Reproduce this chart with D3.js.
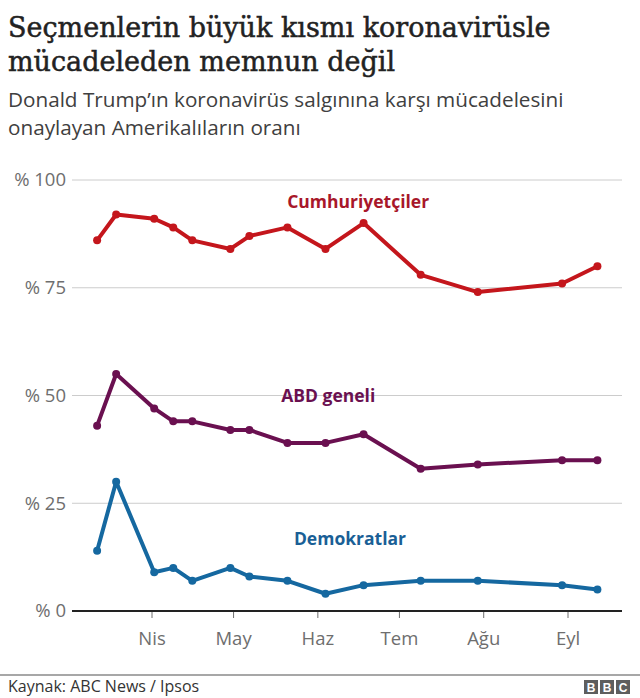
<!DOCTYPE html>
<html><head><meta charset="utf-8">
<script src="https://cdn.jsdelivr.net/npm/d3@7"></script>
<style>
body{margin:0;background:#fff;}
svg{display:block;}
</style></head>
<body>
<svg id="c" width="640" height="698"></svg>
<script>
const dates = ["2020-03-12","2020-03-19","2020-04-02","2020-04-09","2020-04-16","2020-04-30","2020-05-07","2020-05-21","2020-06-04","2020-06-18","2020-07-09","2020-07-30","2020-08-30","2020-09-12"];
const republicans = [86,92,91,89,86,84,87,89,84,90,78,74,76,80];
const overall = [43,55,47,44,44,42,42,39,39,41,33,34,35,35];
const democrats = [14,30,9,10,7,10,8,7,4,6,7,7,6,5];
const seriesNames = ["Cumhuriyetçiler","ABD geneli","Demokratlar"];
const yTicks = [0,25,50,75,100];
const monthTicks = ["2020-04-01","2020-05-01","2020-06-01","2020-07-01","2020-08-01","2020-09-01"];
const monthLabels = ["Nis","May","Haz","Tem","Ağu","Eyl"];

const svg = d3.select("#c");
const parse = d3.timeParse("%Y-%m-%d");
const sans = "'Open Sans', 'Noto Sans', sans-serif";

const x = d3.scaleTime().domain([parse("2020-04-01"), parse("2020-09-01")]).range([151.5, 567.5]);
const y = d3.scaleLinear().domain([0,100]).range([611,180]);
const left = 72, right = 622;

// title
const title = svg.append("text").attr("font-family","'DejaVu Serif', serif").attr("font-size",27)
  .attr("fill","#222").attr("stroke","#222").attr("stroke-width",0.5);
title.append("tspan").attr("x",8).attr("y",37).text("Seçmenlerin büyük kısmı koronavirüsle");
title.append("tspan").attr("x",8).attr("y",71).text("mücadeleden memnun değil");
const sub = svg.append("text").attr("font-family",sans).attr("font-size",20.7).attr("fill","#404040");
sub.append("tspan").attr("x",8).attr("y",107).text("Donald Trump’ın koronavirüs salgınına karşı mücadelesini");
sub.append("tspan").attr("x",8).attr("y",135).text("onaylayan Amerikalıların oranı");

// grid
const gy = svg.append("g");
yTicks.forEach(t => {
  if (t > 0) gy.append("line").attr("x1",left).attr("x2",right).attr("y1",y(t)).attr("y2",y(t)).attr("stroke","#cccccc").attr("stroke-width",1);
  gy.append("text").attr("x",66).attr("y",y(t)).attr("dy","0.35em").attr("text-anchor","end")
    .attr("font-family",sans).attr("font-size",18.5).attr("fill","#6e6e6e").text("% " + t);
});

// x axis
const xAxis = d3.axisBottom(x).tickValues(monthTicks.map(parse)).tickSize(7).tickFormat((d,i)=>monthLabels[i]);
const gx = svg.append("g").attr("transform",`translate(0,${y(0)})`).call(xAxis);
gx.select(".domain").remove();
gx.selectAll(".tick line").attr("stroke","#6e6e6e");
gx.selectAll(".tick text").attr("font-family",sans).attr("font-size",18.5).attr("fill","#6e6e6e").attr("dy","1.3em");
svg.append("line").attr("x1",left).attr("x2",right).attr("y1",y(0)).attr("y2",y(0)).attr("stroke","#222").attr("stroke-width",2);

// series
const series = [
  {vals: republicans, color:"#c4161c", label:"#a8172a", lx:"2020-06-16", ly:93.5},
  {vals: overall, color:"#6a1050", label:"#6a1050", lx:"2020-06-05", ly:48.5},
  {vals: democrats, color:"#1568a0", label:"#1a5f96", lx:"2020-06-13", ly:15.3}
];
const line = d3.line().x(d=>x(parse(d.date))).y(d=>y(d.v));
series.forEach((s,i) => {
  const pts = dates.map((d,j)=>({date:d, v:s.vals[j]}));
  svg.append("path").datum(pts).attr("d",line).attr("fill","none").attr("stroke",s.color).attr("stroke-width",4).attr("stroke-linejoin","round");
  svg.selectAll(null).data(pts).enter().append("circle").attr("cx",d=>x(parse(d.date))).attr("cy",d=>y(d.v)).attr("r",4).attr("fill",s.color);
  svg.append("text").attr("x",x(parse(s.lx))).attr("y",y(s.ly)).attr("text-anchor","middle")
    .attr("font-family",sans).attr("font-weight","bold").attr("font-size",17.5).attr("fill",s.label).text(seriesNames[i]);
});

// footer
svg.append("line").attr("x1",0).attr("x2",640).attr("y1",675).attr("y2",675).attr("stroke","#8a8a8a").attr("stroke-width",1.5);
svg.append("text").attr("x",8).attr("y",692).attr("font-family",sans).attr("font-size",16).attr("fill","#333").text("Kaynak: ABC News / Ipsos");
const bbc = svg.append("g");
["B","B","C"].forEach((ch,i)=>{
  bbc.append("rect").attr("x",584+i*16).attr("y",680).attr("width",14).attr("height",14).attr("fill","#5e5e5e");
  bbc.append("text").attr("x",591+i*16).attr("y",691.5).attr("text-anchor","middle").attr("font-family","'Liberation Sans', Arial, sans-serif").attr("font-weight","bold").attr("font-size",12).attr("fill","#fff").text(ch);
});
</script>
</body></html>
